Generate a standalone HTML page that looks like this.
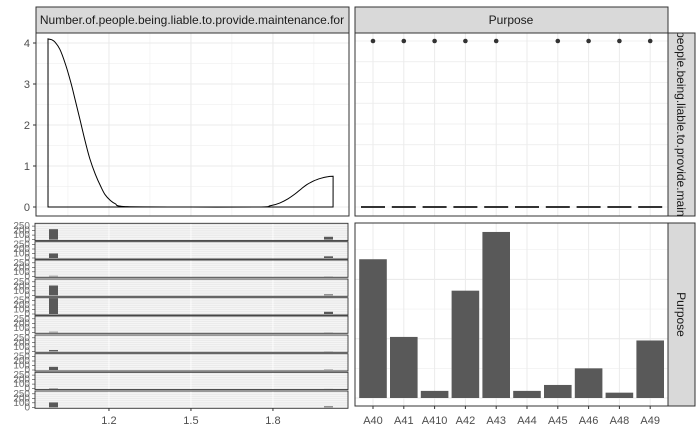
<!DOCTYPE html>
<html><head><meta charset="utf-8"><style>
body{margin:0;background:#fff}
svg{display:block;font-family:"Liberation Sans",Arial,sans-serif}
</style></head><body>
<svg id="c" width="700" height="432" xmlns="http://www.w3.org/2000/svg">
<defs>
<clipPath id="clipTop"><rect x="36" y="7" width="313" height="26"/></clipPath>
<clipPath id="clipRight"><rect x="668" y="33" width="27" height="183"/></clipPath>
</defs>
<g id="g"></g>
</svg>
<script>
// density data (Number of people liable)
const densX=[0.977,0.99,1.003,1.02,1.04,1.06,1.077,1.095,1.113,1.13,1.15,1.17,1.186,1.205,1.223,1.26,1.5,1.75,1.79,1.826,1.855,1.881,1.905,1.925,1.95,1.975,2.0,2.02];
const densY=[4.1,4.08,4.02,3.85,3.5,3.05,2.6,2.1,1.6,1.18,0.8,0.5,0.3,0.16,0.08,0.01,0.0,0.0,0.03,0.1,0.2,0.32,0.45,0.55,0.64,0.7,0.74,0.75];
const categories=["A40","A41","A410","A42","A43","A44","A45","A46","A48","A49"];
const purposeCounts=[234,103,12,181,280,12,22,50,9,97];
const countsOne=[165,72,8,155,250,9,20,50,6,77];
const countsTwo=[45,26,2,15,35,2,2,5,1,15];
const hasPoint=[1,1,1,1,1,0,1,1,1,1];
const yTicks=[0,1,2,3,4];
const xTicks=[1.2,1.5,1.8];

const NS="http://www.w3.org/2000/svg";
const G=document.getElementById('g');
function el(t,a,txt){const e=document.createElementNS(NS,t);for(const k in a)e.setAttribute(k,a[k]);if(txt!==undefined)e.textContent=txt;G.appendChild(e);return e;}

const xS=v=>54.3+(v-1)*273.3;
const yS=v=>207-v*41;
const catX=i=>373+i*30.8;

// top-left panel
let p=el('rect',{x:36,y:33,width:313,height:183,fill:'#fff'});

for(let v=-0.5;v<=4.5;v+=0.5){const y=yS(v);if(y<33||y>216)continue;el('line',{x1:36,x2:349,y1:y,y2:y,stroke:'#ebebeb','stroke-width':Number.isInteger(v)?1.1:0.5});}
for(let k=0;k<7;k++){const v=1.05+k*0.15;const x=xS(v);el('line',{x1:x,x2:x,y1:33,y2:216,stroke:'#ebebeb','stroke-width':k%2?1.1:0.5});}
// smooth path via Catmull-Rom
const pts=densX.map((x,i)=>[xS(x),yS(densY[i])]);
let d='M'+xS(densX[0])+','+yS(0)+' L'+pts[0][0]+','+pts[0][1];
for(let i=0;i<pts.length-1;i++){
 const p0=pts[Math.max(0,i-1)],p1=pts[i],p2=pts[i+1],p3=pts[Math.min(pts.length-1,i+2)];
 const c1=[p1[0]+(p2[0]-p0[0])/6,p1[1]+(p2[1]-p0[1])/6];
 const c2=[p2[0]-(p3[0]-p1[0])/6,p2[1]-(p3[1]-p1[1])/6];
 d+=' C'+c1[0].toFixed(1)+','+c1[1].toFixed(1)+' '+c2[0].toFixed(1)+','+c2[1].toFixed(1)+' '+p2[0].toFixed(1)+','+p2[1].toFixed(1);
}
d+=' L'+xS(densX[densX.length-1])+','+yS(0)+' Z';
let c=el('path',{d:d,fill:'none',stroke:'#000','stroke-width':1});

el('rect',{x:36,y:33,width:313,height:183,fill:'none',stroke:'#333','stroke-width':1});
yTicks.forEach(v=>{el('line',{x1:33,x2:36,y1:yS(v),y2:yS(v),stroke:'#333'});
 let t=el('text',{x:30,y:yS(v)+4,'text-anchor':'end','font-size':11,fill:'#4d4d4d'},v);
 });
el('rect',{x:36,y:7,width:313,height:26,fill:'#d9d9d9',stroke:'#333'});
let st=el('text',{x:192,y:24,'text-anchor':'middle','font-size':12,fill:'#1a1a1a','clip-path':'url(#clipTop)'},'Number.of.people.being.liable.to.provide.maintenance.for');


// top-right panel
el('rect',{x:355,y:33,width:313,height:183,fill:'#fff'});
for(let y=41;y<216;y+=20.75)el('line',{x1:355,x2:668,y1:y,y2:y,stroke:'#ebebeb','stroke-width':0.8});
categories.forEach((k,i)=>el('line',{x1:catX(i),x2:catX(i),y1:33,y2:216,stroke:'#ebebeb','stroke-width':1}));
categories.forEach((k,i)=>{
 let b=el('line',{x1:catX(i)-12,x2:catX(i)+12,y1:207,y2:207,stroke:'#333','stroke-width':2});
 
 if(hasPoint[i]){let o=el('circle',{cx:catX(i),cy:41,r:2.3,fill:'#333'});
 }
});
el('rect',{x:355,y:33,width:313,height:183,fill:'none',stroke:'#333'});
el('rect',{x:355,y:7,width:313,height:26,fill:'#d9d9d9',stroke:'#333'});
let s2=el('text',{x:511,y:24,'text-anchor':'middle','font-size':12,fill:'#1a1a1a'},'Purpose');

el('rect',{x:668,y:33,width:27,height:183,fill:'#d9d9d9',stroke:'#333'});
const gclip=document.createElementNS(NS,'g');gclip.setAttribute('clip-path','url(#clipRight)');G.appendChild(gclip);
const s3=document.createElementNS(NS,'text');
s3.setAttribute('text-anchor','middle');s3.setAttribute('font-size','12');s3.setAttribute('fill','#1a1a1a');
s3.setAttribute('transform','translate(677,124.5) rotate(90)');
s3.textContent='Number.of.people.being.liable.to.provide.maintenance.for';


gclip.appendChild(s3);

// bottom-right bars
el('rect',{x:355,y:223,width:313,height:183,fill:'#fff'});
const yB=v=>398-v*0.593;
for(let v=0;v<=300;v+=50){const y=yB(v);if(y>223)el('line',{x1:355,x2:668,y1:y,y2:y,stroke:'#ebebeb','stroke-width':v%100?0.5:1.1});}
categories.forEach((k,i)=>{el('line',{x1:catX(i),x2:catX(i),y1:223,y2:406,stroke:'#ebebeb'});});
categories.forEach((k,i)=>{
 let r=el('rect',{x:catX(i)-13.8,y:yB(purposeCounts[i]),width:27.6,height:purposeCounts[i]*0.593,fill:'#595959'});
 
 let t=el('text',{x:catX(i),y:424,'text-anchor':'middle','font-size':11,fill:'#4d4d4d'},k);
 
 el('line',{x1:catX(i),x2:catX(i),y1:406,y2:409,stroke:'#333'});
});
el('rect',{x:355,y:223,width:313,height:183,fill:'none',stroke:'#333'});
el('rect',{x:668,y:223,width:27,height:183,fill:'#d9d9d9',stroke:'#333'});
let s4=el('text',{x:0,y:0,'text-anchor':'middle','font-size':12,fill:'#1a1a1a',transform:'translate(677,314.5) rotate(90)'},'Purpose');


// bottom-left faceted histograms
const tops=[223.3,241.7,260,279,297.7,316,335,353.7,372.3,391];
const ph=17.3;
categories.forEach((k,i)=>{
 const y0=tops[i],base=y0+ph-1;
 el('rect',{x:35,y:y0,width:313,height:ph,fill:'#ebebeb'});
 for(let j=1;j<8;j++)el('line',{x1:35,x2:348,y1:y0+j*ph/8,y2:y0+j*ph/8,stroke:'#fff','stroke-width':0.5});
 xTicks.forEach(v=>el('line',{x1:xS(v),x2:xS(v),y1:y0,y2:y0+ph,stroke:'#fff','stroke-width':0.8}));
 const sc=v=>v*(ph-1.5)/250;
 let a=el('rect',{x:49,y:base-sc(countsOne[i]),width:9,height:sc(countsOne[i]),fill:'#595959'});
 
 let b=el('rect',{x:324,y:base-sc(countsTwo[i]),width:9,height:sc(countsTwo[i]),fill:'#595959'});
 
 el('rect',{x:35,y:y0,width:313,height:ph,fill:'none',stroke:'#333','stroke-width':0.9});
 ['0','100','200','250'].forEach((s,j)=>el('text',{x:30,y:base+3-j*4.5,'text-anchor':'end','font-size':10,fill:'#4d4d4d','fill-opacity':0.8},s));
 for(let j=0;j<4;j++)el('line',{x1:32,x2:35,y1:base-j*4.5,y2:base-j*4.5,stroke:'#333','stroke-width':0.6});
});
xTicks.forEach(v=>{el('line',{x1:xS(v),x2:xS(v),y1:408,y2:411,stroke:'#333'});
 let t=el('text',{x:xS(v),y:424,'text-anchor':'middle','font-size':11,fill:'#4d4d4d'},v);
 });
</script>
</body></html>
